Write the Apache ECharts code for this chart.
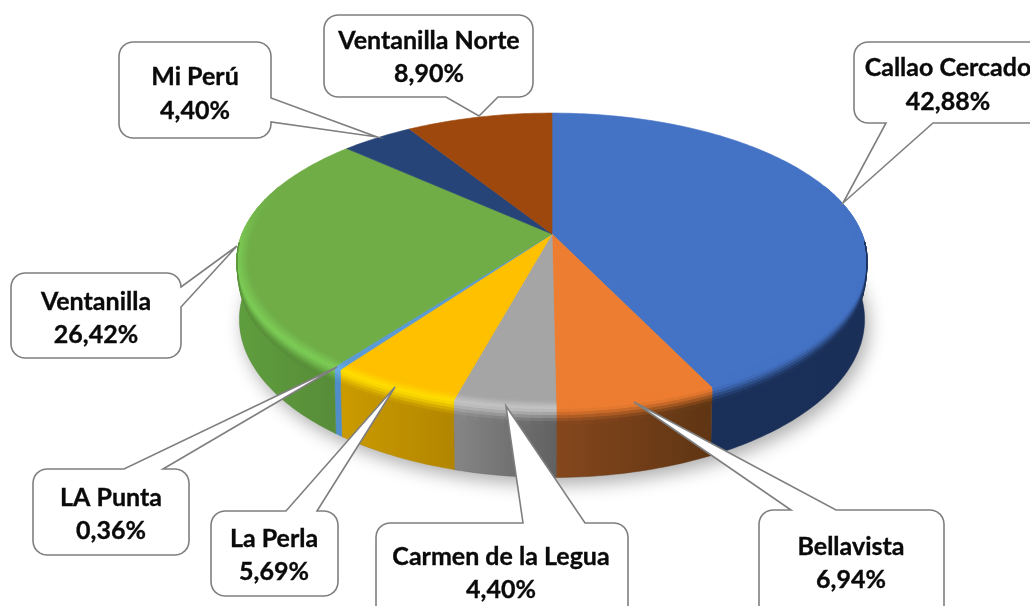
<!DOCTYPE html>
<html>
<head>
<meta charset="utf-8">
<style>html,body{margin:0;padding:0;background:#fff}#c{width:1030px;height:606px}</style>
<script src="https://cdn.jsdelivr.net/npm/echarts@6/dist/echarts.min.js"></script>
</head>
<body>
<div id="c"></div>
<script>
// ---- data ----
const categories = ['Callao Cercado','Bellavista','Carmen de la Legua','La Perla','LA Punta','Ventanilla','Mi Perú','Ventanilla Norte'];
const shares = [42.88,6.94,4.40,5.69,0.36,26.42,4.40,8.90];

// ---- colours ----
const topColors  = ['#4472C4','#ED7D31','#A5A5A5','#FFC000','#5B9BD5','#70AD47','#264478','#9E480E'];
const rimColors  = ['#4472C4','#ED7D31','#C2C2C2','#FFDC00','#6AAEE5','#7BCB55','#264478','#9E480E'];
const wallStart  = ['#1A2F57','#5F3513','#616161','#B28500','#4F8EC8','#578C38','#1A2D50','#6A300A'];
const wallEnd    = ['#1B3059','#85471D','#868686','#CB9B00','#4F8EC8','#5F9E3E','#1A2D50','#6A300A'];

// ---- callout layout: box, pointer base on one side, pointer tip ----
const calloutBoxes = [
  {box:[854,42,1046,123],  side:'bottom', base:[933,123,886,123], tip:[843,203], text:[948,85]},
  {box:[759,510,944,625],  side:'top',    base:[791,510,836,510], tip:[634,402], text:[851,563.5]},
  {box:[376,523,628,625],  side:'top',    base:[523,523,585,523], tip:[506,406], text:[501,573.5]},
  {box:[211,511,338,596],  side:'top',    base:[286,511,317,511], tip:[395,387], text:[274,555.5]},
  {box:[33,469,189,555],   side:'top',    base:[124,469,163,469], tip:[337,367], text:[111,514.5]},
  {box:[11,273,181,358],   side:'right',  base:[181,287,181,307], tip:[237,246], text:[96,318.5]},
  {box:[119,42,271,138],   side:'right',  base:[271,98,271,122],  tip:[377,137], text:[195,94]},
  {box:[324,15,533,97],    side:'bottom', base:[498,97,446,97],   tip:[479,116], text:[429,57.5]}
];

// ---- projection of the pie disc ----
const CX = 552, CY = 234, A = 310, B = 142.7, K = 0.18, H0 = 57;
const total = shares.reduce((s, v) => s + v, 0);
const startAngles = [];
shares.reduce((acc, v, i) => { startAngles[i] = acc; return acc + v / total * 360; }, 0);

function proj(deg, f, drop) {
  const t = deg * Math.PI / 180;
  const X = f * Math.sin(t), Y = -f * Math.cos(t), d = 1 - K * Y;
  let x = CX + A * X / d;
  const frac = drop || 0;
  x = CX + (x - CX) * (1 - 0.008 * frac);
  return [x, CY + B * Y / d + frac * H0 / d];
}
function hex(c){return [parseInt(c.slice(1,3),16),parseInt(c.slice(3,5),16),parseInt(c.slice(5,7),16)];}
function mix(a,b,t){const p=hex(a),q=hex(b);return '#'+p.map((v,i)=>Math.round(v+(q[i]-v)*t).toString(16).padStart(2,'0')).join('');}
function smooth(a,b,x){const t=Math.max(0,Math.min(1,(x-a)/(b-a)));return t*t*(3-2*t);}
function steps(from,to,step){const n=Math.max(1,Math.ceil((to-from)/step)),r=[];for(let i=0;i<=n;i++)r.push(from+(to-from)*i/n);return r;}
function yOf(deg){return -Math.cos(deg*Math.PI/180);}

function renderShadow(){
  const pts=[];
  for(let d=0;d<360;d+=2)pts.push(proj(d,1,1));
  return {type:'polygon',shape:{points:pts},style:{fill:'#bbb',shadowBlur:18,shadowColor:'rgba(0,0,0,0.32)',shadowOffsetX:4,shadowOffsetY:7}};
}
function renderWall(params,api){
  const i=params.dataIndex,v=api.value(0),s=startAngles[i],e=s+v/total*360;
  const an=steps(s,e,1).filter(d=>yOf(d)>-0.02);
  if(an.length<2)return {type:'group',children:[]};
  const pts=an.map(d=>proj(d,1,0)).concat(an.slice().reverse().map(d=>proj(d,1,1)));
  const fill=new echarts.graphic.LinearGradient(0,0,1,0,[{offset:0,color:wallEnd[i]},{offset:1,color:wallStart[i]}]);
  return {type:'polygon',shape:{points:pts},style:{fill,stroke:wallStart[i],lineWidth:0.4}};
}
function renderTop(params,api){
  const i=params.dataIndex,v=api.value(0),s=startAngles[i],e=s+v/total*360;
  const an=steps(s,e,1);
  const pts=[[CX,CY]].concat(an.map(d=>proj(d,1,0)));
  return {type:'polygon',shape:{points:pts},style:{fill:topColors[i],stroke:topColors[i],lineWidth:0.6}};
}
const RIM_IN=0.965, RIM_DROP=0.24, RIM_STEPS=10, RIM_SPLIT=0.45;
function renderRim(params,api){
  const i=params.dataIndex,v=api.value(0),s=startAngles[i],e=s+v/total*360;
  const an=steps(s,e,2),children=[];
  function geom(deg,c0){
    const Y=yOf(deg),w=smooth(0.05,0.4,Y);
    if(c0<=RIM_SPLIT)return proj(deg,RIM_IN+(1-RIM_IN)*c0/RIM_SPLIT,0);
    return proj(deg,1,RIM_DROP*w*(c0-RIM_SPLIT)/(1-RIM_SPLIT));
  }
  for(let r=0;r<RIM_STEPS;r++){
    const a=r/RIM_STEPS,b=(r+1)/RIM_STEPS,c0=(a+b)/2;
    for(let n=0;n<an.length-1;n++){
      const m=(an[n]+an[n+1])/2,Y=yOf(m);
      const wl=smooth(-0.35,0.15,Y),wd=smooth(0.05,0.4,Y);
      if(wl<=0)continue;
      if(c0>RIM_SPLIT&&wd<=0)continue;
      const wc=mix(wallStart[i],wallEnd[i],(m-s)/(e-s||1));
      const light=mix(topColors[i],rimColors[i],wl);
      const c=c0<=RIM_SPLIT?mix(topColors[i],light,c0/RIM_SPLIT):mix(light,wc,smooth(0,1,(c0-RIM_SPLIT)/(1-RIM_SPLIT)));
      children.push({type:'polygon',shape:{points:[geom(an[n],a),geom(an[n+1],a),geom(an[n+1],b),geom(an[n],b)]},
        style:{fill:c,stroke:c,lineWidth:0.9}});
    }
  }
  return {type:'group',children};
}
function arc(cx,cy,r,from,to){const p=[];for(let k=0;k<=6;k++){const t=(from+(to-from)*k/6)*Math.PI/180;p.push([cx+r*Math.cos(t),cy+r*Math.sin(t)]);}return p;}
function calloutPoints(c){
  const [x0,y0,x1,y1]=c.box,R=14,[bx1,by1,bx2,by2]=c.base,pin=[[bx1,by1],c.tip,[bx2,by2]];
  let p=[];
  p=p.concat(arc(x0+R,y0+R,R,180,270));
  if(c.side==='top')p=p.concat(pin);
  p=p.concat(arc(x1-R,y0+R,R,270,360));
  if(c.side==='right')p=p.concat(pin);
  p=p.concat(arc(x1-R,y1-R,R,0,90));
  if(c.side==='bottom')p=p.concat(pin);
  p=p.concat(arc(x0+R,y1-R,R,90,180));
  return p;
}
function renderCallout(params,api){
  const i=params.dataIndex,c=calloutBoxes[i];
  const label=categories[i]+'\n'+api.value(0).toFixed(2).replace('.',',')+'%';
  return {type:'group',children:[
    {type:'polygon',shape:{points:calloutPoints(c)},style:{fill:'#fff',stroke:'#7f7f7f',lineWidth:1.6}},
    {type:'text',style:{text:label,x:c.text[0],y:c.text[1],align:'center',verticalAlign:'middle',textAlign:'center',textVerticalAlign:'middle',
      font:'bold 25px Lato, "Open Sans", sans-serif',lineHeight:33.5,fill:'#0a0a0a',stroke:'#0a0a0a',lineWidth:0.35}}
  ]};
}
const data=shares.map(v=>[v]);
function layer(id,z,fn,d){return {id,type:'custom',coordinateSystem:'none',z,silent:true,animation:false,clip:false,renderItem:fn,data:d||data};}
const chart=echarts.init(document.getElementById('c'),null,{renderer:'canvas'});
chart.setOption({
  backgroundColor:'#fff',animation:false,tooltip:{show:false},
  series:[
    layer('shadow',1,renderShadow,[[total]]),
    layer('walls',2,renderWall),
    layer('tops',3,renderTop),
    layer('rims',4,renderRim),
    layer('callouts',5,renderCallout)
  ]
});
</script>
</body>
</html>
